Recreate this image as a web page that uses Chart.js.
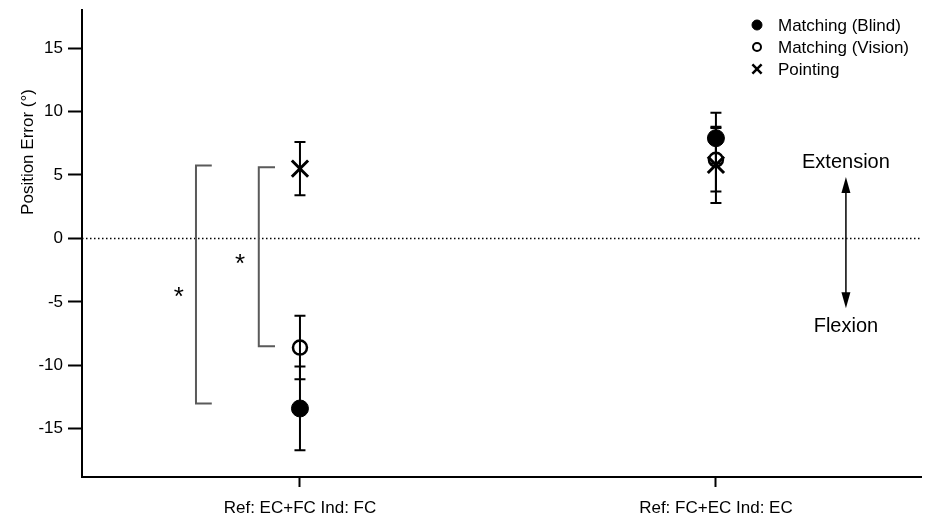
<!DOCTYPE html>
<html><head><meta charset="utf-8">
<script src="https://cdn.jsdelivr.net/npm/chart.js@4"></script>
<style>html,body{margin:0;padding:0;background:#fff;} #wrap{width:926px;height:518px;position:relative;}</style>
</head><body><div id="wrap"><canvas id="c" width="926" height="518"></canvas></div>
<script>
// ---- data ----
const categories = ['Ref: EC+FC Ind: FC', 'Ref: FC+EC Ind: EC'];
const categoryPositions = [1, 2];
const seriesNames = ['Matching (Blind)', 'Matching (Vision)', 'Pointing'];
const blindMeans = [-13.4, 7.9];
const blindErrors = [3.3, 2.0];
const visionMeans = [-8.6, 6.2];
const visionErrors = [2.5, 2.5];
const pointingMeans = [5.5, 5.8];
const pointingErrors = [2.1, 3.0];
const yTickValues = [-15, -10, -5, 0, 5, 10, 15];
const yTitle = 'Position Error (\u00B0)';
const bracketTops = [5.75, 5.6];
const bracketBottoms = [-13.0, -8.5];
const directionLabels = ['Extension', 'Flexion'];

// ---- annotation placement (axis units) ----
const annot = {
  bracketX: [[0.75, 0.788], [0.901, 0.94]],
  starPos: [[0.709, -4.25], [0.856, -1.65]],
  arrowX: 2.3125, arrowTop: 4.85, arrowBottom: -5.5,
  labelY: [6.0, -6.95]
};

const errorsByDataset = [blindErrors, visionErrors, pointingErrors];
const meansByDataset = [blindMeans, visionMeans, pointingMeans];
const toPoints = (arr) => categoryPositions.map((x, i) => ({x: x, y: arr[i]}));

const FONT = "'Liberation Sans', Arial, sans-serif";

const annotPlugin = {
  id: 'annot',
  beforeDatasetsDraw(chart) {
    const ctx = chart.ctx, xs = chart.scales.x, ys = chart.scales.y, ca = chart.chartArea;
    ctx.save();
    // zero dotted line
    ctx.strokeStyle = '#000'; ctx.lineWidth = 1.5; ctx.setLineDash([1.5, 2.5]);
    const y0 = ys.getPixelForValue(0);
    ctx.beginPath(); ctx.moveTo(ca.left, y0); ctx.lineTo(ca.right, y0); ctx.stroke();
    ctx.setLineDash([]);
    // error bars
    ctx.lineWidth = 2; ctx.strokeStyle = '#000';
    meansByDataset.forEach((means, d) => {
      means.forEach((m, i) => {
        const e = errorsByDataset[d][i];
        const px = xs.getPixelForValue(categoryPositions[i]);
        const pt = ys.getPixelForValue(m + e), pb = ys.getPixelForValue(m - e);
        ctx.beginPath();
        ctx.moveTo(px, pt); ctx.lineTo(px, pb);
        ctx.moveTo(px - 5.5, pt); ctx.lineTo(px + 5.5, pt);
        ctx.moveTo(px - 5.5, pb); ctx.lineTo(px + 5.5, pb);
        ctx.stroke();
      });
    });
    // brackets
    ctx.strokeStyle = '#5a5a5a'; ctx.lineWidth = 2;
    bracketTops.forEach((t, i) => {
      const x1 = xs.getPixelForValue(annot.bracketX[i][0]);
      const x2 = xs.getPixelForValue(annot.bracketX[i][1]);
      const yt = ys.getPixelForValue(t), yb = ys.getPixelForValue(bracketBottoms[i]);
      ctx.beginPath();
      ctx.moveTo(x2, yt); ctx.lineTo(x1, yt); ctx.lineTo(x1, yb); ctx.lineTo(x2, yb);
      ctx.stroke();
    });
    // arrow
    const ax = xs.getPixelForValue(annot.arrowX);
    const at = ys.getPixelForValue(annot.arrowTop), ab = ys.getPixelForValue(annot.arrowBottom);
    ctx.strokeStyle = '#000'; ctx.fillStyle = '#000'; ctx.lineWidth = 1.5;
    ctx.beginPath(); ctx.moveTo(ax, at + 10); ctx.lineTo(ax, ab - 10); ctx.stroke();
    ctx.beginPath(); ctx.moveTo(ax, at); ctx.lineTo(ax - 4.5, at + 16); ctx.lineTo(ax + 4.5, at + 16); ctx.closePath(); ctx.fill();
    ctx.beginPath(); ctx.moveTo(ax, ab); ctx.lineTo(ax - 4.5, ab - 16); ctx.lineTo(ax + 4.5, ab - 16); ctx.closePath(); ctx.fill();
    ctx.restore();
  },
  afterDraw(chart) {
    const ctx = chart.ctx, xs = chart.scales.x, ys = chart.scales.y;
    ctx.save();
    ctx.fillStyle = '#000';
    // asterisks (centred on glyph box)
    ctx.font = '26px ' + FONT; ctx.textAlign = 'center'; ctx.textBaseline = 'alphabetic';
    const m = ctx.measureText('*');
    const off = (m.actualBoundingBoxAscent - m.actualBoundingBoxDescent) / 2;
    annot.starPos.forEach(p => {
      ctx.fillText('*', xs.getPixelForValue(p[0]), ys.getPixelForValue(p[1]) + off);
    });
    // direction labels
    ctx.font = '20px ' + FONT; ctx.textBaseline = 'middle';
    const ax = xs.getPixelForValue(annot.arrowX);
    directionLabels.forEach((t, i) => ctx.fillText(t, ax, ys.getPixelForValue(annot.labelY[i])));
    // y title
    ctx.save();
    ctx.translate(28, 152); ctx.rotate(-Math.PI / 2);
    ctx.font = '17px ' + FONT; ctx.textAlign = 'center'; ctx.textBaseline = 'middle';
    ctx.fillText(yTitle, 0, 0);
    ctx.restore();
    // legend
    const H = Chart.helpers;
    const lx = 757, rows = [25, 47, 69];
    const styles = [
      {pointStyle: 'circle', radius: 5, borderWidth: 1, backgroundColor: '#000', borderColor: '#000'},
      {pointStyle: 'circle', radius: 4, borderWidth: 2, backgroundColor: 'rgba(0,0,0,0)', borderColor: '#000'},
      {pointStyle: 'crossRot', radius: 6.5, borderWidth: 2.5, backgroundColor: '#000', borderColor: '#000'}
    ];
    styles.forEach((s, i) => {
      ctx.fillStyle = s.backgroundColor; ctx.strokeStyle = s.borderColor; ctx.lineWidth = s.borderWidth;
      H.drawPoint(ctx, {pointStyle: s.pointStyle, radius: s.radius, rotation: 0, borderWidth: s.borderWidth}, lx, rows[i]);
    });
    ctx.fillStyle = '#000'; ctx.font = '17px ' + FONT; ctx.textAlign = 'left'; ctx.textBaseline = 'middle';
    seriesNames.forEach((n, i) => ctx.fillText(n, 778, rows[i] + 1));
    ctx.restore();
  }
};

new Chart(document.getElementById('c'), {
  type: 'scatter',
  data: {
    datasets: [
      {label: seriesNames[0], data: toPoints(blindMeans), pointStyle: 'circle', pointRadius: 8.5,
       backgroundColor: '#000', borderColor: '#000', borderWidth: 1},
      {label: seriesNames[1], data: toPoints(visionMeans), pointStyle: 'circle', pointRadius: 7,
       backgroundColor: 'rgba(255,255,255,0)', borderColor: '#000', borderWidth: 2.5},
      {label: seriesNames[2], data: toPoints(pointingMeans), pointStyle: 'crossRot', pointRadius: 11.5,
       backgroundColor: '#000', borderColor: '#000', borderWidth: 3}
    ]
  },
  options: {
    responsive: false,
    animation: false,
    events: [],
    layout: {autoPadding: false, padding: {left: 0, top: 10, right: 5, bottom: 0}},
    plugins: {legend: {display: false}, tooltip: {enabled: false}},
    scales: {
      x: {
        type: 'linear', min: 0.476, max: 2.493,
        afterBuildTicks: (s) => { s.ticks = categoryPositions.map(v => ({value: v})); },
        afterFit: (s) => { s.height = 41; s.paddingLeft = 0; s.paddingRight = 0; },
        ticks: {
          callback: (v) => { const i = categoryPositions.indexOf(v); return i >= 0 ? categories[i] : ''; },
          font: {family: FONT, size: 17}, color: '#000', maxRotation: 0, autoSkip: false, padding: 11
        },
        grid: {drawOnChartArea: false, drawTicks: true, tickLength: 10, tickColor: '#000', tickWidth: 2},
        border: {display: true, color: '#000', width: 2}
      },
      y: {
        min: -18.8, max: 18,
        afterBuildTicks: (s) => { s.ticks = yTickValues.map(v => ({value: v})); },
        afterFit: (s) => { s.width = 82; s.paddingTop = 0; s.paddingBottom = 0; },
        ticks: {font: {family: FONT, size: 17}, color: '#000', padding: 5},
        grid: {drawOnChartArea: false, drawTicks: true, tickLength: 14, tickColor: '#000', tickWidth: 2},
        border: {display: true, color: '#000', width: 2}
      }
    }
  },
  plugins: [annotPlugin]
});
</script>
</body></html>
